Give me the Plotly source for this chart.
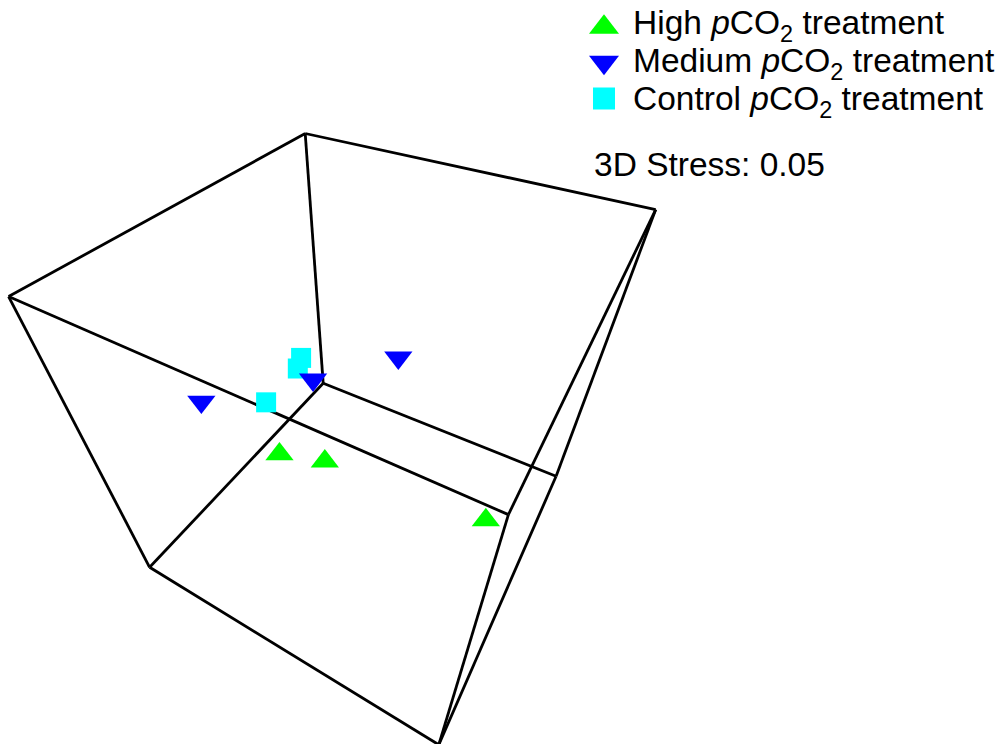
import itertools
import numpy as np
import plotly.graph_objects as go

# ---- NMDS ordination scores (three dimensions) per pCO2 treatment ----
high_nmds1 = [-0.301, -0.045, 0.825]
high_nmds2 = [-0.098, -0.063, -0.031]
high_nmds3 = [0.414, 0.358, 0.304]

medium_nmds1 = [-0.533, -0.364, 0.075]
medium_nmds2 = [0.363, 0.072, 0.281]
medium_nmds3 = [0.633, -0.024, -0.210]

control_nmds1 = [-0.412, -0.401, -0.397]
control_nmds2 = [0.231, 0.198, 0.187]
control_nmds3 = [0.003, 0.055, 0.347]

# limits of the bounding box, shared by the three NMDS axes
box_range = [-1.0, 1.0]

stress_3d = 0.05
group_labels = [
    "High <i>p</i>CO<sub>2</sub> treatment",
    "Medium <i>p</i>CO<sub>2</sub> treatment",
    "Control <i>p</i>CO<sub>2</sub> treatment",
]

# ---- page and perspective camera ----
W, H = 1006, 744
EYE = np.array([1.111, 2.222, 1.923])
TARGET = np.array([0.0, 0.0, 0.0])
UP = np.array([0.0, 1.0, 0.0])
FOCAL = 570.0                 # focal length in screen pixels
AXIS_PX = (366.5, 414.0)      # where the optical axis meets the page

FONT = "Liberation Sans, Arial, sans-serif"
FONT_SIZE = 33.5
LINE_W = 2.8

GREEN, BLUE, CYAN = "#00ff00", "#0000ff", "#00ffff"


def unit(v):
    return v / np.linalg.norm(v)


fwd = unit(TARGET - EYE)
right = unit(np.cross(fwd, UP))
cam_up = np.cross(right, fwd)


def project(x, y, z):
    """Perspective projection onto the image plane (tangent units, y up)."""
    p = np.column_stack([x, y, z]).astype(float) - EYE
    depth = p @ fwd
    return p @ right / depth, p @ cam_up / depth


fig = go.Figure()

# wireframe of the bounding box: join corners that differ in one coordinate
corners = list(itertools.product(box_range, repeat=3))
ex, ey = [], []
for a, b in itertools.combinations(corners, 2):
    if sum(ca != cb for ca, cb in zip(a, b)) == 1:
        px, py = project(*np.array([a, b]).T)
        ex += [px[0], px[1], None]
        ey += [py[0], py[1], None]
fig.add_trace(go.Scatter(x=ex, y=ey, mode="lines",
                         line=dict(color="black", width=LINE_W),
                         hoverinfo="skip", showlegend=False))

groups = [
    ("High", high_nmds1, high_nmds2, high_nmds3, "triangle-up", GREEN, 24.5),
    ("Control", control_nmds1, control_nmds2, control_nmds3, "square", CYAN, 20),
    ("Medium", medium_nmds1, medium_nmds2, medium_nmds3, "triangle-down", BLUE, 24.5),
]
for name, x, y, z, sym, col, size in groups:
    px, py = project(x, y, z)
    fig.add_trace(go.Scatter(x=px, y=py, mode="markers", name=name,
                             marker=dict(symbol=sym, color=col, size=size,
                                         opacity=1, line=dict(width=0)),
                             showlegend=False))

# ---- key (top right), laid out in page pixels ----
KEY_SYMBOL_X = 604
KEY_TEXT_X = 631
KEY_ROW_H = 37
key_rows = [
    (27.3, 25, "triangle-up", GREEN, 26),
    (62.2, 63, "triangle-down", BLUE, 26),
    (98.5, 101, "square", CYAN, 22),
]
for (sy, ty, sym, col, size), label in zip(key_rows, group_labels):
    fig.add_trace(go.Scatter(x=[KEY_SYMBOL_X], y=[sy], xaxis="x2", yaxis="y2",
                             mode="markers", hoverinfo="skip", showlegend=False,
                             marker=dict(symbol=sym, color=col, size=size,
                                         opacity=1, line=dict(width=0))))
    fig.add_annotation(x=KEY_TEXT_X, y=ty, xref="x2", yref="y2", text=label,
                       showarrow=False, xanchor="left", yanchor="middle",
                       height=KEY_ROW_H, valign="middle",
                       font=dict(family=FONT, size=FONT_SIZE, color="black"))
fig.add_annotation(x=KEY_TEXT_X - 39, y=164, xref="x2", yref="y2",
                   text=f"3D Stress: {stress_3d:.2f}",
                   showarrow=False, xanchor="left", yanchor="middle",
                   font=dict(family=FONT, size=FONT_SIZE, color="black"))

cx, cy = AXIS_PX
fig.update_layout(
    width=W, height=H,
    margin=dict(l=0, r=0, t=0, b=0),
    paper_bgcolor="white", plot_bgcolor="white",
    showlegend=False,
    xaxis=dict(range=[-cx / FOCAL, (W - cx) / FOCAL], visible=False, fixedrange=True),
    yaxis=dict(range=[-(H - cy) / FOCAL, cy / FOCAL], visible=False, fixedrange=True),
    xaxis2=dict(range=[0, W], overlaying="x", anchor="y2", visible=False, fixedrange=True),
    yaxis2=dict(range=[H, 0], overlaying="y", anchor="x2", visible=False, fixedrange=True),
)
fig.write_html("out.html")
